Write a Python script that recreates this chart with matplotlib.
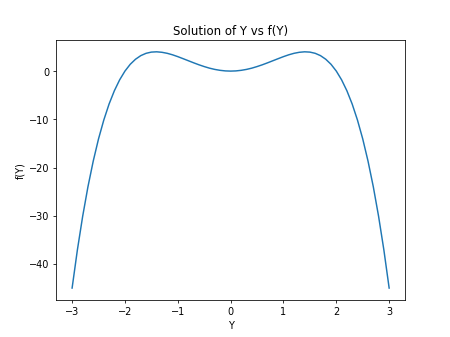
import numpy as np
import matplotlib
matplotlib.use("Agg")
import matplotlib.pyplot as plt

# values (it is symmetric about Y = 0)
Y_half = [0.0, 0.1, 0.2, 0.3, 0.4, 0.5, 0.6, 0.7, 0.8, 0.9, 1.0,
          1.1, 1.2, 1.3, 1.4, 1.5, 1.6, 1.7, 1.8, 1.9, 2.0,
          2.1, 2.2, 2.3, 2.4, 2.5, 2.6, 2.7, 2.8, 2.9, 3.0]
fY_half = [0.0, 0.04, 0.16, 0.35, 0.61, 0.94, 1.31, 1.72, 2.15, 2.58, 3.0,
           3.38, 3.69, 3.90, 4.0, 3.94, 3.69, 3.21, 2.46, 1.41, 0.0,
           -1.81, -4.07, -6.82, -10.14, -14.06, -18.66, -23.98, -30.11, -37.09, -45.0]

Y = [-v for v in Y_half[:0:-1]] + Y_half
fY = fY_half[:0:-1] + fY_half

fig = plt.figure(figsize=(6.4, 4.8), dpi=450 / 6.4)
plt.plot(Y, fY)
plt.title("Solution of Y vs f(Y)")
plt.xlabel("Y")
plt.ylabel("f(Y)")
plt.savefig("out.png", dpi=450 / 6.4)
